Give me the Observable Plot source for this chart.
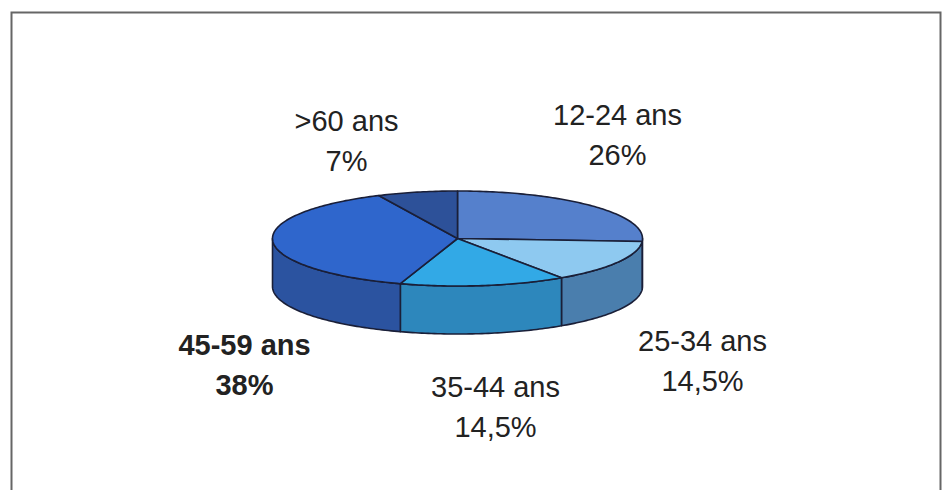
<!DOCTYPE html>
<html><head><meta charset="utf-8">
<script src="https://cdn.jsdelivr.net/npm/d3@7"></script>
<script src="https://cdn.jsdelivr.net/npm/@observablehq/plot@0.6"></script>
<style>body{margin:0;background:#fff}</style>
</head><body><div id="chart"></div>
<script>
// ---- data ----
const categories = ["12-24 ans", "25-34 ans", "35-44 ans", "45-59 ans", ">60 ans"];
const shares = [26, 14.5, 14.5, 38, 7];
const shareLabels = ["26%", "14,5%", "14,5%", "38%", "7%"];
const boldCategory = "45-59 ans";
const topColors = ["#5580cc", "#8ec9f0", "#32a9e6", "#2f66cc", "#2d5199"];
const wallColors = ["#3e66a9", "#4a7ead", "#2d87bc", "#2b53a0", "#233f7a"];

// ---- layout ----
const W = 947, H = 490;
const CX = 457, CY = 238, RX = 185, RY = 47.5, DEPTH = 48;
const labelPos = [[617, 132], [702, 358], [495, 404], [244, 362], [346, 138]];

const total = d3.sum(shares);
let acc = 0;
const slices = categories.map((c, i) => {
  const a0 = acc / total * 360; acc += shares[i];
  return {i, c, a0, a1: acc / total * 360};
});
const rad = d => d * Math.PI / 180;
const ex = a => CX + RX * Math.sin(rad(a));
const ey = a => CY - RY * Math.cos(rad(a));
function arcPts(a0, a1, dy = 0) {
  const n = Math.max(2, Math.ceil(Math.abs(a1 - a0)));
  const pts = [];
  for (let k = 0; k <= n; k++) { const a = a0 + (a1 - a0) * k / n; pts.push([ex(a), ey(a) + dy]); }
  return pts;
}
const tops = [], walls = [];
slices.forEach(s => {
  const pts = [[CX, CY], ...arcPts(s.a0, s.a1), [CX, CY]];
  pts.forEach(([x, y]) => tops.push({id: "t" + s.i, x, y, fill: topColors[s.i]}));
  const b0 = Math.max(s.a0, 90), b1 = Math.min(s.a1, 270);
  if (b1 > b0) {
    const up = arcPts(b0, b1), down = arcPts(b1, b0, DEPTH);
    [...up, ...down, up[0]].forEach(([x, y]) => walls.push({id: "w" + s.i, x, y, fill: wallColors[s.i]}));
  }
});
const labels = slices.map(s => ({x: labelPos[s.i][0], y: labelPos[s.i][1], text: categories[s.i] + "\n" + shareLabels[s.i], bold: categories[s.i] === boldCategory}));

const common = {x: "x", y: "y", z: "id", fill: "fill", stroke: "#1a1f38", strokeWidth: 1.6, strokeLinejoin: "round"};
const textOpts = {x: "x", y: "y", text: "text", fontSize: 29, lineHeight: 1.38, fill: "#222", fontFamily: "Liberation Sans, Arial, sans-serif", textAnchor: "middle"};

const chart = Plot.plot({
  width: W, height: H,
  margin: 0,
  x: {domain: [0, W], range: [0, W], axis: null},
  y: {domain: [0, H], range: [0, H], axis: null},
  color: {type: "identity"},
  marks: [
    Plot.frame({insetLeft: 11, insetTop: 12, insetRight: 7, insetBottom: -10, stroke: "#666", strokeWidth: 2}),
    Plot.line(walls, common),
    Plot.line(tops, common),
    Plot.text(labels.filter(d => !d.bold), textOpts),
    Plot.text(labels.filter(d => d.bold), {...textOpts, fontWeight: "bold"})
  ]
});
document.getElementById("chart").appendChild(chart);
</script>
</body></html>
